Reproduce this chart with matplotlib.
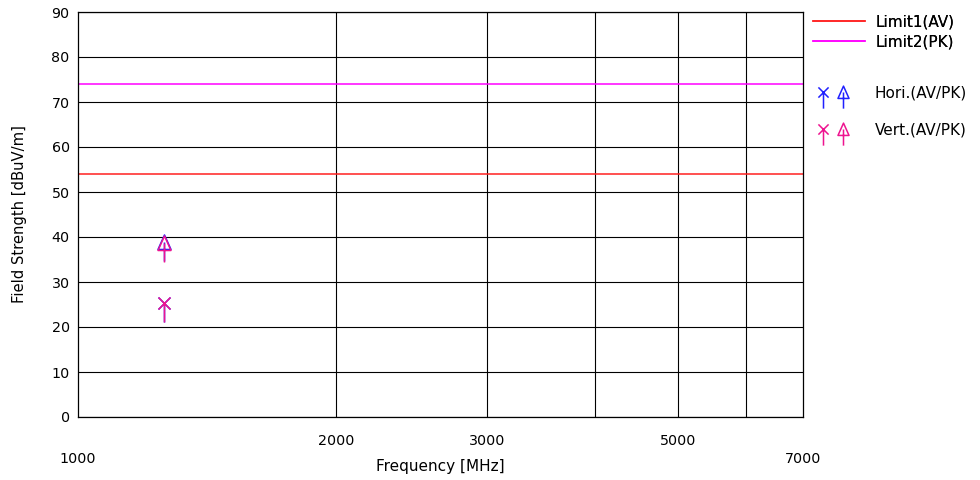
import matplotlib
matplotlib.use("Agg")
import matplotlib.pyplot as plt
from matplotlib.path import Path
from matplotlib.lines import Line2D
from matplotlib.legend_handler import HandlerTuple
from matplotlib.ticker import FixedLocator, FixedFormatter

plt.rcParams["font.family"] = ["DejaVu Sans"]
plt.rcParams["font.size"] = 10

# --- データ ---
limit1_av = 54
limit2_pk = 74
hori_freq = [1260]
hori_av = [25.3]
hori_pk = [39.0]
vert_freq = [1260]
vert_av = [25.3]
vert_pk = [38.6]

major_ticks = [2000, 3000, 4000, 5000, 6000]
major_labels = ["2000", "3000", "", "5000", ""]
edge_ticks = [1000, 7000]
edge_labels = ["1000", "7000"]

BLUE = "#2020ff"
PINK = "#ee1490"

# マーカー (下向きの棒付き X / 三角)
X_STEM = Path(
    [(-6, -6), (6, 6), (-6, 6), (6, -6), (0, 0), (0, -19)],
    [Path.MOVETO, Path.LINETO, Path.MOVETO, Path.LINETO, Path.MOVETO, Path.LINETO],
)
TRI_STEM = Path(
    [(0, 7.5), (-6.5, -7), (6.5, -7), (0, 7.5), (0, 0), (0, -19)],
    [Path.MOVETO, Path.LINETO, Path.LINETO, Path.CLOSEPOLY, Path.MOVETO, Path.LINETO],
)
MS = 38 * 0.72

fig = plt.figure(figsize=(9.8, 4.8), dpi=100)
ax = fig.add_axes([78 / 980, 1 - 417 / 480, 725 / 980, 405 / 480])

ax.set_xscale("log")
ax.set_xlim(1000, 7000)
ax.set_ylim(0, 90)

ax.xaxis.set_major_locator(FixedLocator(major_ticks))
ax.xaxis.set_major_formatter(FixedFormatter(major_labels))
ax.xaxis.set_minor_locator(FixedLocator(edge_ticks))
ax.xaxis.set_minor_formatter(FixedFormatter(edge_labels))
ax.set_yticks(range(0, 91, 10))
ax.tick_params(axis="x", which="major", length=0, pad=12, labelsize=10.3)
ax.tick_params(axis="x", which="minor", length=0, pad=25, labelsize=10.3)
ax.tick_params(axis="y", length=0, pad=6, labelsize=10.3)
ax.grid(which="major", color="black", lw=0.8)
ax.set_axisbelow(True)
for s in ax.spines.values():
    s.set_linewidth(0.9)

l1 = ax.axhline(limit1_av, color="#ff2020", lw=1.1)
l2 = ax.axhline(limit2_pk, color="#ff00ff", lw=1.1)

kw = dict(ls="none", markersize=MS, markeredgewidth=1.1, markerfacecolor="none")
ax.plot(hori_freq, hori_av, marker=X_STEM, color=BLUE, **kw)
ax.plot(hori_freq, hori_pk, marker=TRI_STEM, color=BLUE, **kw)
ax.plot(vert_freq, vert_av, marker=X_STEM, color=PINK, **kw)
ax.plot(vert_freq, vert_pk, marker=TRI_STEM, color=PINK, **kw)

ax.set_xlabel("Frequency [MHz]", fontsize=11)
ax.xaxis.set_label_coords(0.5, -0.103)
ax.set_ylabel("Field Strength [dBuV/m]", fontsize=10.6)
ax.yaxis.set_label_coords(-0.071, 0.5)

# 凡例: リミット線
leg1 = fig.legend(
    [l1, l2], ["Limit1(AV)", "Limit2(PK)"],
    loc="upper left", bbox_to_anchor=(808 / 980, 1 - 10 / 480),
    frameon=False, handlelength=3.4, handletextpad=0.75, labelspacing=0.3,
    borderaxespad=0, borderpad=0.3, fontsize=11,
)
fig.add_artist(leg1)

# 凡例: 測定値マーカー
lkw = dict(ls="none", markersize=MS * 0.85, markeredgewidth=1.1, markerfacecolor="none")
h_x = Line2D([], [], marker=X_STEM, color=BLUE, **lkw)
h_t = Line2D([], [], marker=TRI_STEM, color=BLUE, **lkw)
v_x = Line2D([], [], marker=X_STEM, color=PINK, **lkw)
v_t = Line2D([], [], marker=TRI_STEM, color=PINK, **lkw)
fig.legend(
    [(h_x, h_t), (v_x, v_t)], ["Hori.(AV/PK)", "Vert.(AV/PK)"],
    handler_map={tuple: HandlerTuple(ndivide=None, pad=0.05)},
    loc="upper left", bbox_to_anchor=(808 / 980, 1 - 81 / 480),
    frameon=False, handlelength=2.68, handletextpad=1.37, labelspacing=1.45,
    borderaxespad=0, borderpad=0.3, fontsize=11,
)

fig.savefig("out.png", dpi=100)
